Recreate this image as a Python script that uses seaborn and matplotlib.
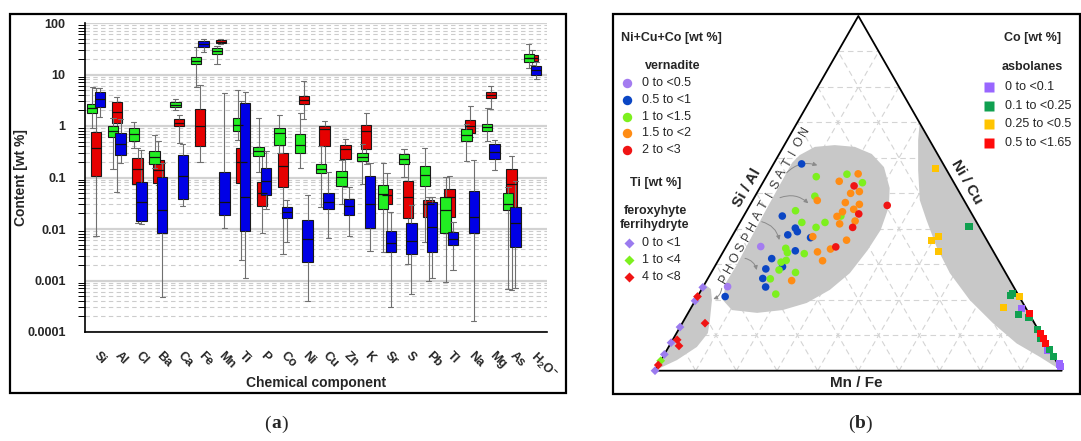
import numpy as np
import pandas as pd
import matplotlib
matplotlib.use("Agg")
import matplotlib.pyplot as plt
import matplotlib.transforms as mtransforms
from matplotlib.lines import Line2D
from matplotlib.patches import Polygon, Rectangle
from matplotlib.ticker import FixedLocator, LogLocator, NullFormatter
import seaborn as sns

# ---------------- panel (a) data: [lower whisker, Q1, median, Q3, upper whisker] ----------------
elements = ['Si', 'Al', 'Cl', 'Ba', 'Ca', 'Fe', 'Mn', 'Ti', 'P', 'Co', 'Ni', 'Cu', 'Zn', 'K',
            'Sr', 'S', 'Pb', 'Tl', 'Na', 'Mg', 'As', 'H2O-']
element_labels = ['Si', 'Al', 'Cl', 'Ba', 'Ca', 'Fe', 'Mn', 'Ti', 'P', 'Co', 'Ni', 'Cu', 'Zn', 'K',
                  'Sr', 'S', 'Pb', 'Tl', 'Na', 'Mg', 'As', r'H$_\mathbf{2}$O$^\mathbf{-}$']

green_box = [
    [0.91, 1.79, 2.19, 2.67, 5.7], [0.144, 0.6, 0.8, 1.0, 1.43], [0.37, 0.51, 0.7, 0.9, 1.17],
    [0.15, 0.18, 0.25, 0.33, 0.67], [2.0, 2.3, 2.6, 2.96, 3.35], [5.6, 15.8, 18, 21.6, 34.7],
    [15.8, 25, 28.5, 33, 36], [0.53, 0.8, 1.06, 1.41, 5.0], [0.13, 0.265, 0.32, 0.385, 1.4],
    [0.3, 0.43, 0.74, 0.93, 1.64], [0.15, 0.3, 0.43, 0.7, 1.77], [0.027, 0.12, 0.149, 0.187, 0.4],
    [0.031, 0.068, 0.103, 0.133, 0.22], [0.074, 0.21, 0.25, 0.305, 0.45],
    [0.0035, 0.024, 0.048, 0.071, 0.19], [0.103, 0.187, 0.23, 0.283, 0.36],
    [0.0057, 0.069, 0.114, 0.166, 0.38], [0.00093, 0.0082, 0.023, 0.041, 0.103],
    [0.21, 0.51, 0.66, 0.86, 1.1], [0.51, 0.79, 0.96, 1.11, 2.2],
    [0.00068, 0.023, 0.031, 0.051, 0.066], [13.2, 17.3, 20.5, 24.7, 38.6]]
red_box = [
    [0.0073, 0.107, 0.37, 0.78, 5.5], [0.053, 1.13, 1.9, 2.9, 3.6], [0.013, 0.075, 0.146, 0.236, 0.37],
    [0.07, 0.079, 0.14, 0.22, 0.52], [0.46, 1.0, 1.15, 1.35, 1.6], [0.197, 0.4, 1.0, 2.14, 6.25],
    [38.5, 40.4, 43, 46.8, 49], [0.0025, 0.077, 0.2, 0.37, 3.0], [0.0083, 0.028, 0.049, 0.083, 0.3],
    [0.0032, 0.064, 0.167, 0.295, 0.6], [1.35, 2.65, 3.2, 3.9, 7.6], [0.13, 0.41, 0.86, 1.0, 1.23],
    [0.064, 0.226, 0.35, 0.42, 0.57], [0.187, 0.35, 0.79, 1.06, 1.81],
    [0.0036, 0.030, 0.045, 0.059, 0.125], [0.0021, 0.0166, 0.042, 0.086, 0.2],
    [0.00096, 0.0173, 0.030, 0.036, 0.041], [0.009, 0.0173, 0.042, 0.059, 0.108],
    [0.6, 0.73, 0.98, 1.33, 2.5], [2.1, 3.5, 4.0, 4.5, 5.9],
    [0.00066, 0.027, 0.074, 0.145, 0.26], [15, 18.5, 21, 23.5, 30]]
blue_box = [
    [1.5, 2.3, 3.3, 4.6, 5.5], [0.19, 0.27, 0.45, 0.74, 1.35], [0.0123, 0.0143, 0.034, 0.081, 0.34],
    [0.00047, 0.0083, 0.023, 0.104, 0.19], [0.028, 0.039, 0.107, 0.27, 0.45], [27, 33.7, 39, 45, 48],
    [0.0103, 0.0187, 0.034, 0.13, 4.3], [0.0011, 0.0091, 0.041, 2.75, 4.5], [0.025, 0.046, 0.085, 0.155, 0.32],
    [0.0057, 0.016, 0.021, 0.027, 0.037], [0.0004, 0.0023, 0.0064, 0.015, 0.046],
    [0.0068, 0.024, 0.034, 0.05, 0.13], [0.0073, 0.019, 0.028, 0.039, 0.064],
    [0.0037, 0.0103, 0.031, 0.106, 0.19], [0.00031, 0.0036, 0.0053, 0.0091, 0.021],
    [0.00054, 0.0032, 0.0059, 0.0129, 0.029], [0.0011, 0.0036, 0.0108, 0.034, 0.042],
    [0.0016, 0.0049, 0.0064, 0.0086, 0.0139], [0.000166, 0.0085, 0.0173, 0.055, 0.22],
    [0.139, 0.226, 0.31, 0.455, 0.54], [0.00073, 0.0044, 0.0129, 0.027, 0.085], [8.2, 9.8, 12, 14.6, 17.7]]

ytick_values = [0.0001, 0.001, 0.01, 0.1, 1, 10, 100]
ytick_labels = ['0.0001', '0.001', '0.01', '0.1', '1', '10', '100']

# ---------------- panel (b) data: ternary positions [top %, right %] ----------------
vern_labels = ['0 to <0.5', '0.5 to <1', '1 to <1.5', '1.5 to <2', '2 to <3']
vern_T = [[35.0, 23.7],
          [58.3, 43.6, 40.2, 39.2, 38.3, 37.5, 33.8, 31.6, 29.3, 28.7, 26.0, 23.6, 20.9],
          [54.7, 55.4, 53.0, 49.2, 45.1, 41.8, 41.8, 40.4, 43.6, 34.5, 33.3, 33.0, 30.6, 31.1, 28.4, 27.7, 25.9, 21.6],
          [55.5, 53.4, 50.0, 50.5, 48.0, 47.4, 46.9, 45.5, 44.8, 43.5, 42.2, 41.4, 37.8, 36.8, 33.5, 31.0, 34.3, 25.4],
          [52.1, 44.2, 40.4, 34.9, 46.6]]
vern_R = [[8.5, 6.0],
          [6.9, 9.5, 14.4, 15.4, 13.5, 19.5, 17.6, 12.9, 16.7, 12.9, 13.5, 15.4, 6.8],
          [12.3, 19.5, 24.5, 14.7, 12.0, 15.2, 20.9, 19.4, 23.9, 14.9, 15.9, 20.2, 15.7, 16.7, 16.3, 20.7, 15.4, 18.9],
          [22.2, 18.6, 23.1, 25.0, 15.9, 23.1, 26.8, 26.1, 23.7, 23.0, 28.1, 24.7, 19.9, 28.7, 23.2, 25.7, 26.0, 20.9],
          [22.9, 28.0, 28.4, 27.0, 33.8]]
vern_colors = ['#a47cf0', '#0b46c4', '#7df01e', '#ff8c14', '#f01414']

fero_labels = ['0 to <1', '1 to <4', '4 to <8']
fero_T = [[23.5, 19.7, 12.3, 7.9, 4.6, 0.0], [2.8], [20.9, 13.4, 8.7, 7.0, 1.6]]
fero_R = [[0, 0, 0, 0, 0, 0], [0], [0, 5.6, 1.1, 2.4, 0]]
fero_colors = ['#9b7bef', '#7df01e', '#f01414']

asbo_labels = ['0 to <0.1', '0.1 to <0.25', '0.25 to <0.5', '0.5 to <1.65']
asbo_T = [[17.6, 5.6, 1.9, 1.1],
          [40.6, 21.3, 21.8, 15.9, 15.1, 11.5, 9.1, 6.0, 3.9],
          [57.1, 36.8, 37.8, 33.5, 20.9, 17.9],
          [16.2, 10.5, 7.7, 9.2]]
asbo_R = [[81.4, 93.6, 98.4, 99.2],
          [56.9, 76.75, 77.1, 81.5, 84.4, 88.2, 90.3, 94.1, 96.05],
          [40.5, 49.6, 50.7, 53.0, 79.2, 76.8],
          [84.0, 89.6, 92.2, 91.0]]
asbo_colors = ['#9966ff', '#10a050', '#ffc400', '#ff0a0a']

# shaded fields (top %, right %)
field_main_T = [60.8, 63.1, 63.6, 63.1, 61.1, 57.4, 51.5, 46.2, 39.7, 34.0, 27.5, 22.8, 19.1, 17.1, 16.3,
                17.1, 19.9, 24.7, 29.8, 36.8, 44.7, 52.4, 58.6]
field_main_R = [5.2, 7.75, 12.4, 17.6, 22.75, 27.6, 31.95, 34.4, 35.65, 35.3, 34.15, 31.6, 27.75, 22.85, 16.95,
                10.35, 6.75, 5.05, 5.2, 4.9, 4.65, 4.5, 4.4]
field_left_T = [0, 24.4, 23.0, 19.9, 17.1, 14.3, 10.6, 6.7, 3.0, 0.76]
field_left_R = [0, 0, 2.25, 4.05, 5.2, 6.35, 7.7, 6.95, 3.9, 0.85]
field_right_T = [69.5, 65.0, 56.6, 48.1, 42.5, 35.0, 27.5, 19.9, 13.4, 7.7, 3.9, 0]
field_right_R = [30.3, 32.2, 36.4, 41.05, 45.5, 51.7, 58.75, 67.45, 76.4, 85.05, 92.65, 100]

# ---------------- figure ----------------
sns.set_theme(style='white')
plt.rcParams['font.family'] = ['Liberation Sans', 'DejaVu Sans']
plt.rcParams['mathtext.fontset'] = 'custom'
plt.rcParams['mathtext.rm'] = 'Liberation Sans'
plt.rcParams['mathtext.bf'] = 'Liberation Sans:bold'

W, H = 1081, 441
fig = plt.figure(figsize=(W / 100, H / 100), dpi=100)


def fx(x):
    return x / W


def fy(y):
    return 1 - y / H


# ---------- panel (a) ----------
ax_a = fig.add_axes([fx(85), fy(332), fx(547) - fx(85), fy(23) - fy(332)])


def box_frame(stats, offset):
    rows = []
    for i, s in enumerate(stats):
        for v in s:
            rows.append((i + offset, v))
    return pd.DataFrame(rows, columns=['pos', 'value'])


box_specs = [(red_box, 0.0, '#e60000'), (green_box, -0.18, '#22ee22'), (blue_box, 0.18, '#0000e6')]
for stats, off, col in box_specs:
    sns.boxplot(data=box_frame(stats, off), x='pos', y='value', orient='x', native_scale=True,
                log_scale=(False, True), whis=(0, 100), width=0.5, color=col, saturation=1,
                linecolor='#1a1a1a', linewidth=0.8, showfliers=False, ax=ax_a,
                whiskerprops=dict(color='#707070', lw=0.8), capprops=dict(color='#707070', lw=0.8),
                medianprops=dict(color='#111111', lw=0.9))

ax_a.set_yscale('log')
ax_a.set_ylim(1e-4, 100)
ax_a.set_xlim(-0.53, 21.7)
ax_a.yaxis.set_major_locator(FixedLocator(ytick_values))
ax_a.set_yticklabels(ytick_labels, fontsize=9, fontweight='bold')
ax_a.yaxis.set_minor_locator(LogLocator(base=10, subs=np.arange(2, 10)))
ax_a.yaxis.set_minor_formatter(NullFormatter())
ax_a.set_xticks(range(len(elements)))
ax_a.set_xticklabels(element_labels, fontsize=9, fontweight='bold', rotation=-45,
                     ha='left', va='center', rotation_mode='anchor')
offset = mtransforms.ScaledTranslation(-3 / 100, 0, fig.dpi_scale_trans)
for lab in ax_a.get_xticklabels():
    lab.set_transform(lab.get_transform() + offset)
ax_a.tick_params(axis='x', which='major', length=7, width=0.9, color='black', direction='out', pad=9)
ax_a.tick_params(axis='y', which='major', length=9, width=0.9, color='black', direction='out', pad=5)
ax_a.tick_params(axis='y', which='minor', length=5, width=0.7, color='black', direction='out', left=True)
ax_a.set_axisbelow(True)
ax_a.yaxis.grid(True, which='major', color='#d2d2d2', lw=1.6, ls='-')
ax_a.yaxis.grid(True, which='minor', color='#cccccc', lw=0.8, ls=(0, (4, 3)))
for side in ['top', 'right']:
    ax_a.spines[side].set_visible(False)
for side in ['left', 'bottom']:
    ax_a.spines[side].set_color('black')
    ax_a.spines[side].set_linewidth(1.2)
ax_a.set_xlabel('')
ax_a.set_ylabel('')
fig.text(fx(21), fy(178), 'Content [wt %]', rotation=90, ha='center', va='center',
         fontsize=10, fontweight='bold')
fig.text(fx(316), fy(383), 'Chemical component', ha='center', va='center', fontsize=10, fontweight='bold')

# ---------- panel (b) ----------
h = np.sqrt(3) / 2
ax_b = fig.add_axes([fx(655), fy(370.7), fx(1061.7) - fx(655), fy(16) - fy(370.7)])
ax_b.set_xlim(0, 1)
ax_b.set_ylim(0, h)
ax_b.axis('off')


def tern(T, R):
    T = np.asarray(T, dtype=float) / 100
    R = np.asarray(R, dtype=float) / 100
    return R + T / 2, T * h


gkw = dict(color='#d4d4d4', lw=0.8, ls=(0, (5, 3.5)), zorder=0.5)
for k in range(1, 10):
    p = k * 10
    xa, ya = tern([p, p], [0, 100 - p])
    ax_b.plot(xa, ya, **gkw)
    xb, yb = tern([0, 100 - p], [p, p])
    ax_b.plot(xb, yb, **gkw)
    xc, yc = tern([0, 100 - p], [100 - p, 0])
    ax_b.plot(xc, yc, **gkw)

for FT, FR in [(field_main_T, field_main_R), (field_left_T, field_left_R), (field_right_T, field_right_R)]:
    px, py = tern(FT, FR)
    ax_b.add_patch(Polygon(np.column_stack([px, py]), closed=True, fc='#c8c8c8', ec='none', zorder=1))

ax_b.plot([0, 1, 0.5, 0], [0, 0, h, 0], color='black', lw=1.3, zorder=3, clip_on=False)


def class_frame(Ts, Rs, labels):
    rows = []
    for T, R, lab in zip(Ts, Rs, labels):
        xs, ys = tern(T, R)
        for a, b in zip(np.atleast_1d(xs), np.atleast_1d(ys)):
            rows.append((a, b, lab))
    return pd.DataFrame(rows, columns=['x', 'y', 'cls'])


sns.scatterplot(data=class_frame(vern_T, vern_R, vern_labels), x='x', y='y', hue='cls',
                palette=dict(zip(vern_labels, vern_colors)), marker='o', s=30, linewidth=0,
                legend=False, ax=ax_b, zorder=4, clip_on=False)
sns.scatterplot(data=class_frame(fero_T, fero_R, fero_labels), x='x', y='y', hue='cls',
                palette=dict(zip(fero_labels, fero_colors)), marker='D', s=20, linewidth=0,
                legend=False, ax=ax_b, zorder=4, clip_on=False)
sns.scatterplot(data=class_frame(asbo_T, asbo_R, asbo_labels), x='x', y='y', hue='cls',
                palette=dict(zip(asbo_labels, asbo_colors)), marker='s', s=26, linewidth=0,
                legend=False, ax=ax_b, zorder=4, clip_on=False)
ax_b.set_xlim(0, 1)
ax_b.set_ylim(0, h)

# edge labels
fig.text(fx(747), fy(188), 'Si / Al', rotation=60, ha='center', va='center', fontsize=11, fontweight='bold')
fig.text(fx(967), fy(182), 'Ni / Cu', rotation=-60, ha='center', va='center', fontsize=11, fontweight='bold')
fig.text(fx(856), fy(383), 'Mn / Fe', ha='center', va='center', fontsize=11, fontweight='bold')

# PHOSPHATISATION letters along the Si/Al edge
word = 'PHOSPHATISATION'
lx = np.linspace(724, 805, len(word))
ly = np.linspace(279, 132, len(word))
for ch, a, b in zip(word, lx, ly):
    fig.text(fx(a), fy(b), ch, rotation=60, ha='center', va='center', fontsize=9, color='#3a3a3a')

arrows = [((786.7, 172.7), (817.3, 165.3)), ((780, 197.7), (808.3, 203.3)),
          ((761.7, 221.7), (779.3, 240)), ((745, 258.3), (756.7, 270)), ((721.7, 288.3), (713.3, 299))]
for (x1, y1), (x2, y2) in arrows:
    ax_b.annotate('', xy=(x2, H - y2), xytext=(x1, H - y1), xycoords='figure pixels',
                  textcoords='figure pixels',
                  arrowprops=dict(arrowstyle='-|>', color='#8a8a8a', lw=0.7, mutation_scale=6,
                                  connectionstyle='arc3,rad=-0.3', shrinkA=0, shrinkB=0), zorder=2)

# legends


def fig_marker(x, y, marker, color, ms):
    fig.add_artist(Line2D([fx(x)], [fy(y)], marker=marker, ms=ms, color=color, mec='none', ls='none',
                          transform=fig.transFigure))


fig.text(fx(620.7), fy(38), 'Ni+Cu+Co [wt %]', ha='left', va='center', fontsize=9, fontweight='bold')
fig.text(fx(645), fy(66), 'vernadite', ha='left', va='center', fontsize=9, fontweight='bold')
for i, (lab, col) in enumerate(zip(vern_labels, vern_colors)):
    yy = 83 + i * 16.75
    fig_marker(627.3, yy, 'o', col, 6.8)
    fig.text(fx(641.7), fy(yy), lab, ha='left', va='center', fontsize=9)

fig.text(fx(630), fy(183), 'Ti [wt %]', ha='left', va='center', fontsize=9, fontweight='bold')
fig.text(fx(623.5), fy(211), 'feroxyhyte', ha='left', va='center', fontsize=9, fontweight='bold')
fig.text(fx(620), fy(225), 'ferrihydryte', ha='left', va='center', fontsize=9, fontweight='bold')
for i, (lab, col) in enumerate(zip(fero_labels, fero_colors)):
    yy = 243.3 + i * 17
    fig_marker(629.3, yy, 'D', col, 5.5)
    fig.text(fx(641.7), fy(yy), lab, ha='left', va='center', fontsize=9)

fig.text(fx(1004), fy(38), 'Co [wt %]', ha='left', va='center', fontsize=9, fontweight='bold')
fig.text(fx(1002), fy(67), 'asbolanes', ha='left', va='center', fontsize=9, fontweight='bold')
for i, (lab, col) in enumerate(zip(asbo_labels, asbo_colors)):
    yy = 87.3 + i * 18.5
    fig_marker(989, yy, 's', col, 7.2)
    fig.text(fx(1005), fy(yy), lab, ha='left', va='center', fontsize=9)

# panel frames and captions
fig.add_artist(Rectangle((fx(10), fy(393)), fx(566) - fx(10), fy(14) - fy(393), transform=fig.transFigure,
                         fill=False, lw=1.6, ec='black'))
fig.add_artist(Rectangle((fx(613), fy(394)), fx(1079.5) - fx(613), fy(14) - fy(394), transform=fig.transFigure,
                         fill=False, lw=1.6, ec='black'))
for cx, letter in [(276, 'a'), (860, 'b')]:
    fig.text(fx(cx - 9), fy(424), '(', ha='center', va='center', fontsize=14, family='Liberation Serif')
    fig.text(fx(cx), fy(424), letter, ha='center', va='center', fontsize=14, family='Liberation Serif',
             fontweight='bold')
    fig.text(fx(cx + 9), fy(424), ')', ha='center', va='center', fontsize=14, family='Liberation Serif')

fig.savefig('out.png', dpi=100)
